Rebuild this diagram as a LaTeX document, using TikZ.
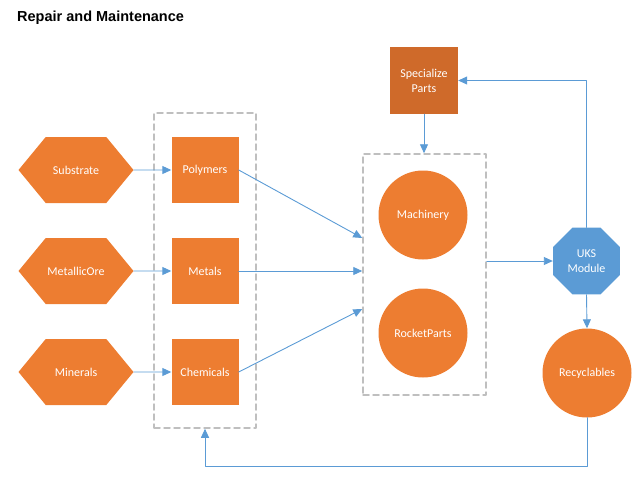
\documentclass[tikz,border=0pt]{standalone}
\usepackage{fontspec}
\setmainfont{Carlito}
\newfontfamily\headfont{Liberation Sans}
\usetikzlibrary{arrows.meta,shapes.geometric,shapes.symbols}

\definecolor{partorange}{HTML}{ED7D31}
\definecolor{darkorange}{HTML}{CF6A2A}
\definecolor{moduleblue}{HTML}{5B9BD5}
\definecolor{groupgray}{HTML}{BFBFBF}

\begin{document}
\begin{tikzpicture}[x=1pt,y=-1pt,line cap=round,line join=round,
  font=\fontsize{12}{15}\selectfont,
  raw/.style={signal,signal to=west and east,signal pointer angle=101,fill=partorange,text=white,minimum width=115pt,minimum height=66pt,inner sep=0pt},
  part/.style={rectangle,fill=partorange,text=white,minimum width=67pt,minimum height=66pt,inner sep=0pt},
  item/.style={circle,fill=partorange,text=white,minimum size=89pt,inner sep=0pt},
  group/.style={rectangle,draw=groupgray,line width=1.5pt,dash pattern=on 6pt off 4pt,inner sep=0pt},
  flow/.style={draw=moduleblue,line width=0.9pt,-{Triangle[length=9pt,width=8pt]}}]
\useasboundingbox (0,0) rectangle (642,480);

\node[anchor=west,inner sep=0pt,font=\headfont\bfseries\fontsize{14.5}{16}\selectfont] (title) at (17,18) {Repair and Maintenance};

% groups
\node[group,minimum width=102pt,minimum height=315pt] (grp1) at (205,270.5) {};
\node[group,minimum width=123pt,minimum height=241pt] (grp2) at (424.5,274.5) {};

% raw materials
\node[raw] (sub) at (76,170) {Substrate};
\node[raw] (ore) at (76,271) {MetallicOre};
\node[raw] (min) at (76,372) {Minerals};

\node[part] (pol) at (205,170) {Polymers};
\node[part] (met) at (205,271) {Metals};
\node[part] (che) at (205,372) {Chemicals};

\node[item] (mac) at (423,215) {Machinery};
\node[item] (roc) at (423,333) {RocketParts};
\node[item] (rec) at (587,373) {Recyclables};

\node[part,fill=darkorange,minimum width=68pt,minimum height=67pt,align=center] (spec) at (424,80.5) {Specialize\\Parts};
\node[regular polygon,regular polygon sides=8,minimum size=72.5pt,inner sep=0pt,fill=moduleblue,text=white,align=center] (uks) at (586.5,261) {UKS\\Module};

% connectors
\draw[flow] (sub) -- (pol);
\draw[flow] (ore) -- (met);
\draw[flow] (min) -- (che);
\draw[flow] (pol.east) -- ([yshift=36.5pt]grp2.west);
\draw[flow] (met.east) -- (met.east -| grp2.west);
\draw[flow] (che.east) -- ([yshift=-34.5pt]grp2.west);
\draw[flow] (uks.west -| grp2.east) -- (uks.west);
\draw[flow] (uks.north) |- (spec.east);
\draw[flow] (spec.south) -- (spec.south |- grp2.north);
\draw[flow] (uks.south) -- (rec.north);
\draw[flow] (rec.south) -- ++(0,48.5) -| (grp1.south);

\end{tikzpicture}
\end{document}
